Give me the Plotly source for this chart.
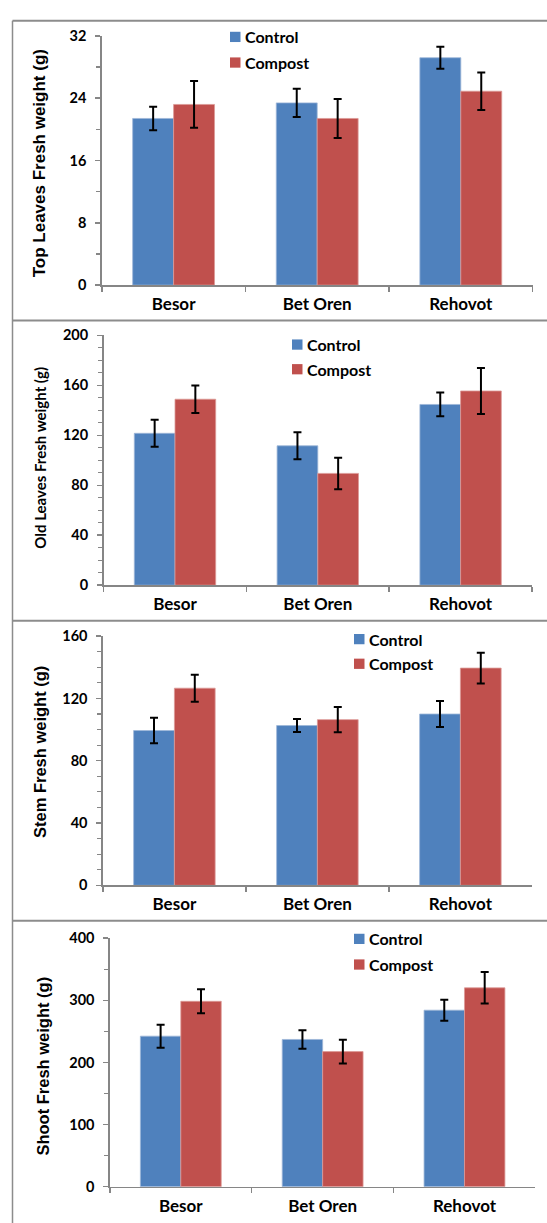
import plotly.graph_objects as go

# ---------------- data ----------------
sites = ["Besor", "Bet Oren", "Rehovot"]
series_names = ["Control", "Compost"]

top_control = [21.4, 23.4, 29.2]
top_control_err = [1.5, 1.8, 1.4]
top_compost = [23.2, 21.4, 24.9]
top_compost_err = [3.0, 2.5, 2.4]

old_control = [121.6, 111.6, 144.7]
old_control_err = [10.8, 10.8, 9.5]
old_compost = [148.9, 89.5, 155.5]
old_compost_err = [11.0, 12.6, 18.4]

stem_control = [99.4, 102.6, 110.0]
stem_control_err = [8.2, 4.2, 8.3]
stem_compost = [126.6, 106.4, 139.5]
stem_compost_err = [8.7, 8.1, 9.9]

shoot_control = [242.3, 237.0, 284.1]
shoot_control_err = [18.5, 14.8, 17.0]
shoot_compost = [298.4, 217.5, 320.1]
shoot_compost_err = [19.3, 19.0, 25.4]

y_titles = ["Top Leaves Fresh weight (g)", "Old Leaves Fresh weight (g)",
            "Stem Fresh weight (g)", "Shoot Fresh weight (g)"]
y_max = [32, 200, 160, 400]
y_dtick = [8, 40, 40, 100]
y_minor = [4, 10, 10, 50]

# ---------------- layout geometry (pixels) ----------------
W, H = 547, 1223
FONT = "Lato"
ARIAL = "Liberation Sans"
BLUE = "#4F81BD"
RED = "#C0504D"
AXIS = "#868686"
BORDER = "#8c8c8c"

panels = [
    dict(x0=101.8, x1=532.6, yt=27.3, yb=280.0, tx=39.5, ty=157.0, tf=ARIAL, ts=17,
         lx=230.0, ly=(28.3, 54.3), box=12.0),
    dict(x0=103.6, x1=532.0, yt=331.0, yb=584.3, tx=40.0, ty=455.0, tf=FONT, ts=15,
         lx=292.0, ly=(340.3, 365.3), box=316.0),
    dict(x0=102.9, x1=531.9, yt=636.0, yb=888.7, tx=39.5, ty=754.0, tf=ARIAL, ts=16.5,
         lx=354.0, ly=(639.0, 664.0), box=620.5),
    dict(x0=109.9, x1=535.4, yt=942.3, yb=1194.3, tx=43.5, ty=1072.0, tf=ARIAL, ts=16.5,
         lx=354.0, ly=(943.0, 969.0), box=924.5),
]

data_sets = [
    (top_control, top_control_err, top_compost, top_compost_err),
    (old_control, old_control_err, old_compost, old_compost_err),
    (stem_control, stem_control_err, stem_compost, stem_compost_err),
    (shoot_control, shoot_control_err, shoot_compost, shoot_compost_err),
]

def px(x):
    return x / W

def py(y):
    return 1 - y / H

fig = go.Figure()
layout = {}
shapes = []
annotations = []
colors = [BLUE, RED]
edge = ["#9db6d8", "#dc9997"]

for i, (p, ds) in enumerate(zip(panels, data_sets)):
    n = "" if i == 0 else str(i + 1)
    xa, ya = "x" + n, "y" + n
    vals = [(ds[0], ds[1]), (ds[2], ds[3])]
    for k, (v, e) in enumerate(vals):
        fig.add_trace(go.Bar(
            x=sites, y=v, name=series_names[k], xaxis=xa, yaxis=ya,
            marker=dict(color=colors[k], line=dict(color=edge[k], width=0.8)),
            error_y=dict(type="data", array=e, visible=True, color="black",
                         thickness=2, width=4),
            showlegend=False, hoverinfo="skip",
        ))
    layout["xaxis" + n] = dict(
        domain=[px(p["x0"]), px(p["x1"])], anchor=ya,
        showline=True, linecolor=AXIS, linewidth=1.5,
        ticks="outside", tickson="boundaries", ticklen=5, tickcolor=AXIS, tickwidth=1.5,
        tickfont=dict(family=FONT, size=17, color="black", weight="bold"),
        ticklabelstandoff=3, showgrid=False, zeroline=False, fixedrange=True,
    )
    layout["yaxis" + n] = dict(
        domain=[py(p["yb"]), py(p["yt"])], anchor=xa,
        range=[0, y_max[i]], dtick=y_dtick[i], tick0=0,
        showline=True, linecolor=AXIS, linewidth=1.5,
        ticks="outside", ticklen=5, tickcolor=AXIS, tickwidth=1.5,
        minor=dict(dtick=y_minor[i], ticks="outside", ticklen=4, tickcolor=AXIS, tickwidth=1.2),
        tickfont=dict(family=FONT, size=14.5, color="black", weight="bold"),
        ticklabelstandoff=6, showgrid=False, zeroline=False, fixedrange=True,
    )
    # y axis title
    annotations.append(dict(
        text=y_titles[i], x=px(p["tx"]), y=py(p["ty"]),
        xref="paper", yref="paper", textangle=-90, showarrow=False,
        xanchor="center", yanchor="middle",
        font=dict(family=p["tf"], size=p["ts"], color="black", weight="bold"),
    ))
    # legend (manual)
    for k in range(2):
        cy = p["ly"][k]
        shapes.append(dict(type="rect", xref="paper", yref="paper",
                           x0=px(p["lx"]), x1=px(p["lx"] + 10.5),
                           y0=py(cy + 5.2), y1=py(cy - 5.2),
                           fillcolor=colors[k], line=dict(width=0)))
        annotations.append(dict(
            text=series_names[k], x=px(p["lx"] + 13.0), y=py(cy),
            xref="paper", yref="paper", showarrow=False,
            xanchor="left", yanchor="middle",
            font=dict(family=FONT, size=16, color="black", weight="bold"),
        ))
    # panel box border (top line)
    shapes.append(dict(type="line", xref="paper", yref="paper",
                       x0=px(12.5), x1=px(560), y0=py(p["box"]), y1=py(p["box"]),
                       line=dict(color=BORDER, width=2)))

shapes.append(dict(type="line", xref="paper", yref="paper",
                   x0=px(12.5), x1=px(12.5), y0=py(12.0), y1=py(1240),
                   line=dict(color=BORDER, width=1.5)))

fig.update_layout(
    **layout,
    width=W, height=H,
    margin=dict(l=0, r=0, t=0, b=0),
    paper_bgcolor="white", plot_bgcolor="white",
    barmode="group", bargap=0.43, bargroupgap=0.0,
    shapes=shapes, annotations=annotations,
    showlegend=False, hovermode=False,
    font=dict(family=FONT),
)

fig.write_html(
    "out.html",
    config={"displayModeBar": False, "staticPlot": True},
    post_script="document.body.style.margin='0px';document.body.style.overflow='hidden';",
)
